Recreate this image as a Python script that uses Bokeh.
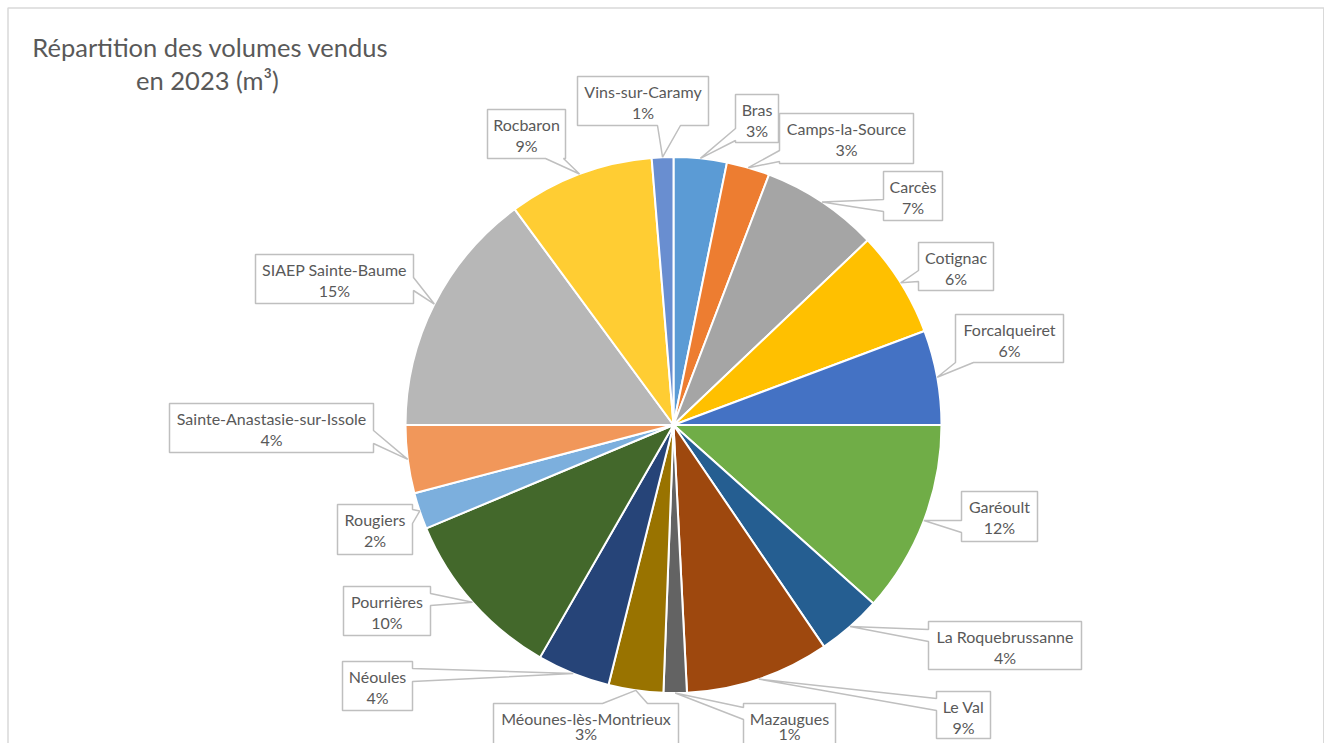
import math
from bokeh.plotting import figure
from bokeh.models import Range1d, ColumnDataSource
from bokeh.core.properties import value
from bokeh.embed import file_html
from bokeh.resources import INLINE

# ---------------- data ----------------
communes = ["Bras", "Camps-la-Source", "Carcès", "Cotignac", "Forcalqueiret",
            "Garéoult", "La Roquebrussanne", "Le Val", "Mazaugues",
            "Méounes-lès-Montrieux", "Néoules", "Pourrières", "Rougiers",
            "Sainte-Anastasie-sur-Issole", "SIAEP Sainte-Baume", "Rocbaron",
            "Vins-sur-Caramy"]
shares = [3.2, 2.6, 7.1, 6.4, 5.7, 11.6, 3.9, 8.7, 1.4, 3.3, 4.4, 10.4, 2.2,
          4.1, 14.9, 8.8, 1.3]
pct_labels = ["3%", "3%", "7%", "6%", "6%", "12%", "4%", "9%", "1%", "3%", "4%",
              "10%", "2%", "4%", "15%", "9%", "1%"]
colors = ["#5B9BD5", "#ED7D31", "#A5A5A5", "#FFC000", "#4472C4", "#70AD47",
          "#255E91", "#9E480E", "#636363", "#997300", "#264478", "#43682B",
          "#7CAFDD", "#F1975A", "#B7B7B7", "#FFCD33", "#698ED0"]
title_lines = ["Répartition des volumes vendus", "en 2023 (m³)"]

# ---------------- layout (screenshot pixel coords) ----------------
W, H = 1324, 743
def X(px):
    return px
def Y(py):
    return H - py

CX, CY, R = X(673), Y(424.5), 268

# label boxes: (x0, y0, x1, y1, tail edge, base a, base b)
boxes = [
    (735, 94, 778, 142, "left", 128, 140),
    (779, 113, 913, 163, "left", 150, 161),
    (883, 171, 942, 220, "left", 199, 211),
    (918, 242, 993, 290, "left", 270, 281),
    (955, 314, 1063, 362, "bottom", 955, 973),
    (961, 491, 1037, 541, "left", 520, 532),
    (928, 621, 1081, 669, "left", 629, 641),
    (936, 691, 990, 738, "left", 698, 710),
    (743, 703, 835, 749, "left", 707, 719),
    (493, 703, 678, 770, "top", 602, 647),
    (342, 661, 412, 710, "right", 668, 681),
    (343, 586, 430, 635, "right", 593, 605),
    (337, 504, 412, 554, "right", 509, 523),
    (169, 403, 373, 452, "right", 430, 443),
    (255, 254, 413, 303, "right", 277, 290),
    (487, 109, 565, 158, "bottom", 545, 563),
    (577, 76, 708, 125, "bottom", 657, 680),
]

p = figure(width=W, height=H, x_range=Range1d(0, W), y_range=Range1d(0, H),
           toolbar_location=None, output_backend="svg", min_border=0,
           x_axis_location=None, y_axis_location=None)
p.grid.visible = False
p.outline_line_color = None
p.background_fill_color = "white"
p.border_fill_color = "white"

# chart border (top, left, right; bottom is cut off in the reference)
p.line([X(7.5), X(7.5), W - 0.75, W - 0.75], [0, Y(7.5), Y(7.5), 0],
       line_color="#D9D9D9", line_width=1.5)

# pie slices, clockwise from 12 o'clock
total = sum(shares)
starts, ends, mids = [], [], []
cum = 0.0
for v in shares:
    a0 = cum / total * 2 * math.pi
    cum += v
    a1 = cum / total * 2 * math.pi
    starts.append(math.pi / 2 - a0)
    ends.append(math.pi / 2 - a1)
    mids.append((a0 + a1) / 2)

src = ColumnDataSource(dict(start=starts, end=ends, color=colors))
p.wedge(x=CX, y=CY, radius=R, start_angle="start", end_angle="end",
        direction="clock", fill_color="color", line_color="white",
        line_width=2, source=src)

# callouts
xs, ys = [], []
tx, ty1, ty2 = [], [], []
for (x0, y0, x1, y1, edge, b1, b2), m in zip(boxes, mids):
    tipx = CX + R * math.sin(m)
    tipy = CY + R * math.cos(m)
    tip = (tipx, tipy)
    TL, TR, BR, BL = (X(x0), Y(y0)), (X(x1), Y(y0)), (X(x1), Y(y1)), (X(x0), Y(y1))
    if edge == "top":
        pts = [TL, (X(b1), Y(y0)), tip, (X(b2), Y(y0)), TR, BR, BL]
    elif edge == "right":
        pts = [TL, TR, (X(x1), Y(b1)), tip, (X(x1), Y(b2)), BR, BL]
    elif edge == "bottom":
        pts = [TL, TR, BR, (X(b2), Y(y1)), tip, (X(b1), Y(y1)), BL]
    else:
        pts = [TL, TR, BR, BL, (X(x0), Y(b2)), tip, (X(x0), Y(b1))]
    xs.append([q[0] for q in pts])
    ys.append([q[1] for q in pts])
    tx.append(X((x0 + x1) / 2))
    ty1.append(Y(y0 + 15))
    ty2.append(Y(min(y0 + 36, 733)))

p.patches(xs, ys, fill_color="white", line_color="#BFBFBF", line_width=1.5)

font = value("Lato")
p.text(x=tx, y=ty1, text=communes, text_font=font, text_font_size="16px",
       text_color="#595959", text_align="center", text_baseline="middle")
p.text(x=tx, y=ty2, text=pct_labels, text_font=font, text_font_size="16px",
       text_color="#595959", text_align="center", text_baseline="middle")

# title
p.text(x=[X(210), X(207)], y=[Y(46), Y(79)], text=title_lines, text_font=font,
       text_font_size="25.5px", text_color="#595959", text_align="center",
       text_baseline="middle")

open("out.html", "w").write(file_html(p, INLINE))
